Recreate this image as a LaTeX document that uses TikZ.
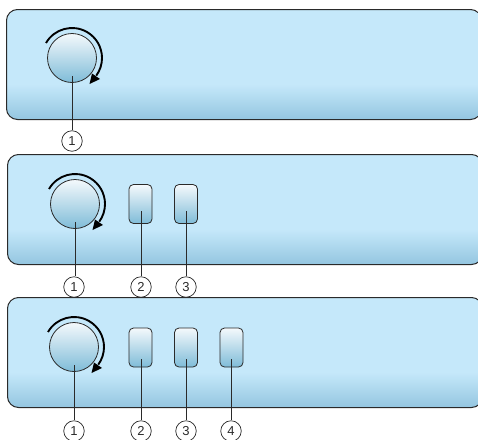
\documentclass[tikz,border=0pt]{standalone}
\usepackage{fontspec}
\setmainfont{Liberation Sans}
\definecolor{panelb}{HTML}{C5E8FA}
\definecolor{panelbot}{HTML}{94C6E0}
\definecolor{ink}{HTML}{2A2A2A}
\definecolor{ktop}{HTML}{F4F9FC}
\definecolor{kbot}{HTML}{7FBCD8}
\pgfdeclareverticalshading{panelshade}{100bp}{
  color(0bp)=(panelbot); color(25bp)=(panelbot); color(41bp)=(panelb); color(100bp)=(panelb)}
\tikzset{
  panel/.style={draw=ink,line width=1pt,rounded corners=11pt,minimum width=475pt,minimum height=110pt,inner sep=0pt,shading=panelshade,anchor=north west},
  knob/.style={circle,draw=ink,line width=0.8pt,minimum size=49pt,inner sep=0pt,top color=ktop,bottom color=kbot},
  btn/.style={draw=ink,line width=0.8pt,rounded corners=4.5pt,minimum width=23pt,minimum height=39pt,inner sep=0pt,top color=ktop,bottom color=kbot},
  callout/.style={circle,draw=ink,line width=0.7pt,minimum size=20.5pt,inner sep=0pt,font=\fontsize{13}{13}\selectfont,text=ink},
  lead/.style={draw=ink,line width=0.8pt},
  turn/.style={draw=black,line width=1.9pt},
  turnhead/.style={fill=black,draw=none}
}
\begin{document}
\begin{tikzpicture}[x=1pt,y=-1pt]
\useasboundingbox (0,0) rectangle (478,439);
% panels
\node[panel] (p1) at (6,9) {};
\node[panel] (p2) at (7,154) {};
\node[panel] (p3) at (7,297) {};
% knobs
\node[knob] (k1) at (72,58) {};
\node[knob] (k2) at (75,204) {};
\node[knob] (k3) at (74,347) {};
% buttons
\node[btn] (b21) at (140.5,204) {};
\node[btn] (b22) at (186,204) {};
\node[btn] (b31) at (140.5,347.5) {};
\node[btn] (b32) at (186,347.5) {};
\node[btn] (b33) at (231.5,347.5) {};
% leader start points
\coordinate (s1) at (72,76);
\coordinate (s2) at (75,222);
\coordinate (s21) at (141,211);
\coordinate (s22) at (186,211);
\coordinate (s3) at (74,365);
\coordinate (s31) at (141,359);
\coordinate (s32) at (186,359);
\coordinate (s33) at (231,359);
% callouts
\node[callout] (c1) at (72,141) {1};
\node[callout] (c21) at (74,287) {1};
\node[callout] (c22) at (141,287) {2};
\node[callout] (c23) at (186,287) {3};
\node[callout] (c31) at (74,431) {1};
\node[callout] (c32) at (141,431) {2};
\node[callout] (c33) at (186,431) {3};
\node[callout] (c34) at (231,431) {4};
% leaders
\draw[lead] (s1) -- (c1);
\draw[lead] (s2) -- (s2 |- c21.north);
\draw[lead] (s21) -- (c22);
\draw[lead] (s22) -- (c23);
\draw[lead] (s3) -- (c31);
\draw[lead] (s31) -- (c32);
\draw[lead] (s32) -- (c33);
\draw[lead] (s33) -- (c34);
% rotation arrows
\foreach \k in {k1,k2,k3}{
  \draw[turn] (\k.center) ++(150:30pt) arc[start angle=150,end angle=-36,radius=30pt];
  \fill[turnhead] (\k.center) ++(17.5,26) -- ++(2.5,-10.5) -- ++(8,5.5) -- cycle;
}
\end{tikzpicture}
\end{document}
